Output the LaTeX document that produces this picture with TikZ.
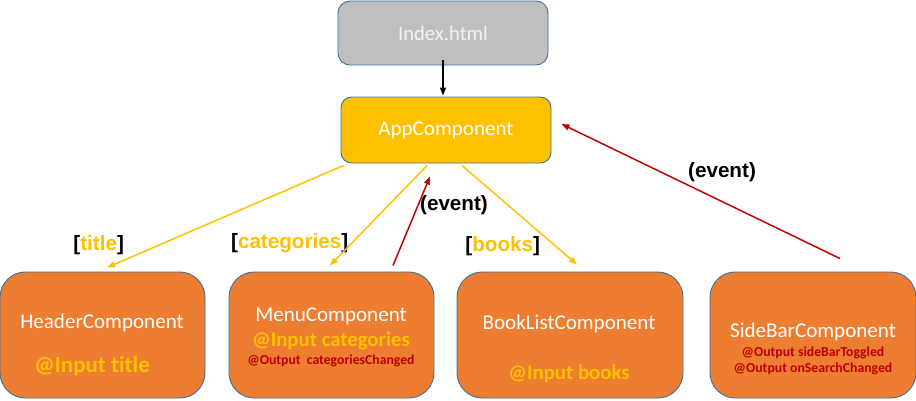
\documentclass[tikz,border=0pt]{standalone}
\usepackage{fontspec}
\setmainfont{Carlito}[Ligatures=NoCommon]
\newfontfamily\arialfont{Liberation Sans}
\usetikzlibrary{arrows.meta,calc}
\definecolor{boxorange}{HTML}{ED7D31}
\definecolor{appyellow}{HTML}{FFC000}
\definecolor{idxgray}{HTML}{BFBFBF}
\definecolor{outred}{HTML}{C00000}
\definecolor{bordblue}{HTML}{41719C}
\tikzset{
  comp/.style={draw=bordblue, line width=0.7pt, fill=boxorange, rounded corners=19pt,
    minimum height=94.5pt, inner sep=0pt},
  topbox/.style={draw=bordblue, line width=0.7pt, rounded corners=9pt,
    minimum width=157.5pt, inner sep=0pt},
  cname/.style={text=white, font=\fontsize{15.8}{18}\selectfont},
  inyel/.style={text=appyellow, font=\bfseries\fontsize{15.6}{18}\selectfont},
  outtxt/.style={text=outred, font=\bfseries\fontsize{10.3}{12}\selectfont},
  lbl/.style={font=\arialfont\bfseries\fontsize{15.5}{18}\selectfont, inner sep=0pt},
  yarr/.style={draw=appyellow, line width=1.1pt, -{Triangle[length=6pt,width=4.5pt]}},
  rarr/.style={draw=outred, line width=1.1pt, -{Triangle[length=6pt,width=4.5pt]}},
  karr/.style={draw=black, line width=1.1pt, -{Triangle[length=6pt,width=4.5pt]}}
}
\begin{document}
\begin{tikzpicture}[x=0.75pt,y=-0.75pt]
\useasboundingbox (0,0) rectangle (916,400);
% top boxes
\node[topbox, fill=idxgray, minimum height=48pt] (index) at (443,33) {};
\node[text=white!95!black, font=\fontsize{15.5}{18}\selectfont] (indextxt) at (443,33) {Index.html};
\node[topbox, fill=appyellow, minimum height=49.5pt, rounded corners=8pt] (app) at (446,130) {};
\node[text=white, font=\fontsize{15.8}{18}\selectfont] (apptxt) at (446,130) {AppComponent};
% component boxes
\node[comp, minimum width=153.75pt] (header) at (102.5,335) {};
\node[comp, minimum width=153.75pt] (menu) at (331.5,335) {};
\node[comp, minimum width=169.5pt] (book) at (570,335) {};
\node[comp, minimum width=154.5pt] (side) at (813,335) {};
% texts
\node[cname] (ht1) at (102,323) {HeaderComponent};
\node[inyel, font=\bfseries\fontsize{17.2}{18}\selectfont] (ht2) at (92,366) {@Input title};
\node[cname] (mt1) at (331,316) {MenuComponent};
\node[inyel] (mt2) at (331,341) {@Input categories};
\node[outtxt] (mt3) at (331,361) {@Output\ \ categoriesChanged};
\node[cname] (bt1) at (569,324) {BookListComponent};
\node[inyel] (bt2) at (569,374) {@Input books};
\node[cname] (st1) at (813,332) {SideBarComponent};
\node[outtxt] (st2) at (813,353) {@Output sideBarToggled};
\node[outtxt] (st3) at (813,369) {@Output onSearchChanged};
% labels
\node[lbl] (ltitle) at (98.7,245) {[\textcolor{appyellow}{title}]};
\node[lbl] (lcat) at (289.7,243) {[\textcolor{appyellow}{categories}]};
\node[lbl] (lbooks) at (502.7,246) {[\textcolor{appyellow}{books}]};
\node[lbl] (lev1) at (454,205) {(event)};
\node[lbl] (lev2) at (722,172) {(event)};
% connectors
\draw[karr] ($(index.south)+(0,-5)$) -- ($(app.north)+(-3,-1)$);
\draw[yarr] ($(app.south west)+(3,2)$) -- ($(header.north)+(4.5,-4)$);
\draw[yarr] ($(app.south)+(-19,2)$) -- ($(menu.north)+(-1.5,-6)$);
\draw[yarr] ($(app.south)+(16,2)$) -- ($(book.north)+(7,-7)$);
\draw[rarr] ($(menu.north)+(61.5,-6)$) -- ($(app.south)+(-16,13)$);
\draw[rarr] ($(side.north)+(27,-13)$) -- ($(app.east)+(10,-6)$);
\end{tikzpicture}
\end{document}
